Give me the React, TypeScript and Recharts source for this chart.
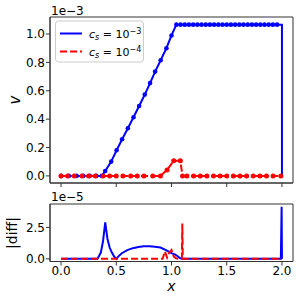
import { LineChart, Line, XAxis, YAxis, ReferenceArea } from "recharts";

// top panel: v (units of 1e-3)
const blueX = [
  0.0, 0.07, 0.14, 0.2, 0.26, 0.32, 0.37,
  0.4, 0.454, 0.503, 0.553, 0.605, 0.656, 0.707, 0.758, 0.806, 0.852, 0.902, 0.954, 1.0,
  1.044, 1.082, 1.12, 1.158, 1.196, 1.234, 1.272, 1.31, 1.348, 1.386, 1.424, 1.462, 1.5,
  1.538, 1.576, 1.614, 1.652, 1.69, 1.728, 1.766, 1.804, 1.842, 1.88, 1.918, 1.956,
];
const blueV = [
  0, 0, 0, 0, 0, 0, 0,
  0.035, 0.101, 0.181, 0.258, 0.336, 0.413, 0.493, 0.573, 0.654, 0.735, 0.815, 0.9, 0.99,
  1.066, 1.066, 1.066, 1.066, 1.066, 1.066, 1.066, 1.066, 1.066, 1.066, 1.066, 1.066, 1.066,
  1.066, 1.066, 1.066, 1.066, 1.066, 1.066, 1.066, 1.066, 1.066, 1.066, 1.066, 1.066,
];
const blueDropX = 2.0;

const redX = [
  0, 0.06, 0.12, 0.19, 0.25, 0.31, 0.38, 0.44, 0.5, 0.56, 0.63, 0.69, 0.75, 0.83, 0.9,
  0.96, 1.02, 1.08, 1.1, 1.14, 1.2, 1.26, 1.32, 1.38, 1.44, 1.5, 1.56, 1.62, 1.68, 1.74,
  1.8, 1.86, 1.92, 1.99,
];
const redV = [
  0, 0, 0, 0, 0, 0, 0, 0, 0, 0, 0, 0, 0, 0, 0,
  0.042, 0.106, 0.106, 0, 0, 0, 0, 0, 0, 0, 0, 0, 0, 0, 0,
  0, 0, 0, 0,
];

// bottom panel: |diff| (units of 1e-5)
const diffBlueX = [
  0, 0.3, 0.33, 0.36, 0.38, 0.4, 0.42, 0.44, 0.46, 0.48, 0.5, 0.52, 0.55, 0.6, 0.65, 0.7,
  0.75, 0.8, 0.85, 0.9, 0.95, 1.0, 1.03, 1.05, 1.07, 1.09, 1.5, 1.99, 1.997, 2.0,
];
const diffBlueV = [
  0, 0, 0, 0.5, 1.4, 2.9, 1.6, 0.9, 0.5, 0.2, 0, 0.2, 0.45, 0.7, 0.85, 0.95,
  1.0, 1.0, 0.97, 0.9, 0.7, 0.45, 0.35, 0.25, 0.1, 0, 0, 0, 4.15, 0,
];
const diffRedX = [0, 0.92, 0.94, 0.96, 0.98, 1.0, 1.02, 1.04, 1.06, 1.094, 1.098, 1.102, 2.0];
const diffRedV = [0, 0, 0.6, 0.1, 0.5, 0.7, 0.2, 0.05, 0, 0, 2.8, 0, 0];

const xTicks = [0, 0.5, 1, 1.5, 2];
const vTicks = [0, 0.2, 0.4, 0.6, 0.8, 1.0];
const diffTicks = [0, 2.5];

const zip = (xs: number[], ys: number[]) => xs.map((x, i) => ({ x, y: ys[i] }));

const blue = zip(blueX, blueV);
const blueTail = [
  blue[blue.length - 1],
  { x: blueDropX, y: blueV[blueV.length - 1] },
  { x: blueDropX, y: 0 },
];
const red = zip(redX, redV);
const diffBlue = zip(diffBlueX, diffBlueV);
const diffRed = zip(diffRedX, diffRedV);

const X_DOM: [number, number] = [-0.1, 2.1];
const V_DOM: [number, number] = [-0.05, 1.12];
const D_DOM: [number, number] = [-0.21, 4.36];

const BLUE = "#0000ff";
const RED = "#ff0000";
const AX = "#333";
const tickStyle = { fontSize: 12, fill: "#000" };

export default function App() {
  return (
    <div
      style={{
        position: "absolute",
        left: 0,
        top: 0,
        width: 300,
        height: 300,
        background: "#fff",
        fontFamily: "'DejaVu Sans', sans-serif",
      }}
    >
      <div style={{ position: "absolute", left: 0, top: 0 }}>
        <LineChart width={300} height={190} margin={{ top: 17, right: 7, left: 0, bottom: 0 }}>
          <XAxis
            type="number"
            dataKey="x"
            domain={X_DOM}
            ticks={xTicks}
            allowDataOverflow
            height={7}
            tickSize={4}
            tickFormatter={() => ""}
            stroke={AX}
          />
          <YAxis
            type="number"
            dataKey="y"
            domain={V_DOM}
            ticks={vTicks}
            allowDataOverflow
            width={50}
            tickSize={4}
            tickMargin={1}
            tick={tickStyle}
            tickFormatter={(t: number) => t.toFixed(1)}
            stroke={AX}
          />
          <Line
            data={blue}
            dataKey="y"
            type="linear"
            stroke={BLUE}
            strokeWidth={2}
            dot={{ r: 2.3, fill: BLUE, stroke: "none" }}
            isAnimationActive={false}
          />
          <Line
            data={blueTail}
            dataKey="y"
            type="linear"
            stroke={BLUE}
            strokeWidth={2}
            dot={false}
            isAnimationActive={false}
          />
          <Line
            data={red}
            dataKey="y"
            type="linear"
            stroke={RED}
            strokeWidth={2}
            strokeDasharray="7 3"
            dot={{ r: 2.5, fill: RED, stroke: "none" }}
            isAnimationActive={false}
          />
          <ReferenceArea x1={X_DOM[0]} x2={X_DOM[1]} y1={V_DOM[0]} y2={V_DOM[1]} fill="none" stroke={AX} />
        </LineChart>
      </div>

      <div style={{ position: "absolute", left: 0, top: 190 }}>
        <LineChart width={300} height={110} margin={{ top: 14, right: 7, left: 0, bottom: 0 }}>
          <XAxis
            type="number"
            dataKey="x"
            domain={X_DOM}
            ticks={xTicks}
            allowDataOverflow
            height={38.5}
            tickSize={4}
            tickMargin={1}
            tick={tickStyle}
            tickFormatter={(t: number) => t.toFixed(1)}
            stroke={AX}
          />
          <YAxis
            type="number"
            dataKey="y"
            domain={D_DOM}
            ticks={diffTicks}
            allowDataOverflow
            width={50}
            tickSize={4}
            tickMargin={1}
            tick={tickStyle}
            tickFormatter={(t: number) => t.toFixed(1)}
            stroke={AX}
          />
          <Line
            data={diffBlue}
            dataKey="y"
            type="linear"
            stroke={BLUE}
            strokeWidth={2}
            dot={false}
            isAnimationActive={false}
          />
          <Line
            data={diffRed}
            dataKey="y"
            type="linear"
            stroke={RED}
            strokeWidth={2}
            strokeDasharray="7 3"
            dot={false}
            isAnimationActive={false}
          />
          <ReferenceArea x1={X_DOM[0]} x2={X_DOM[1]} y1={D_DOM[0]} y2={D_DOM[1]} fill="none" stroke={AX} />
        </LineChart>
      </div>

      <svg
        width={300}
        height={300}
        style={{ position: "absolute", left: 0, top: 0, pointerEvents: "none" }}
      >
        <text x={51} y={15} fontSize={12}>1e−3</text>
        <text x={51} y={201} fontSize={12}>1e−5</text>
        <text x={20} y={100} fontSize={15} fontStyle="italic" textAnchor="middle" transform="rotate(-90 20 100)">
          v
        </text>
        <text x={17} y={233} fontSize={14} textAnchor="middle" transform="rotate(-90 17 233)">
          |diff|
        </text>
        <text x={171.5} y={291} fontSize={14} fontStyle="italic" textAnchor="middle">
          x
        </text>
        {/* legend */}
        <rect x={55.5} y={21} width={88} height={41} rx={3} fill="#fff" fillOpacity={0.8} stroke="#ccc" />
        <line x1={60} x2={82} y1={33.5} y2={33.5} stroke={BLUE} strokeWidth={2} />
        <line x1={60} x2={82} y1={51.5} y2={51.5} stroke={RED} strokeWidth={2} strokeDasharray="7 3" />
        <text x={89} y={37.5} fontSize={11}>
          <tspan fontStyle="italic">c</tspan>
          <tspan fontSize={8} fontStyle="italic" dy={2}>s</tspan>
          <tspan dy={-2}> = 10</tspan>
          <tspan fontSize={8} dy={-4}>−3</tspan>
        </text>
        <text x={89} y={55.5} fontSize={11}>
          <tspan fontStyle="italic">c</tspan>
          <tspan fontSize={8} fontStyle="italic" dy={2}>s</tspan>
          <tspan dy={-2}> = 10</tspan>
          <tspan fontSize={8} dy={-4}>−4</tspan>
        </text>
      </svg>
    </div>
  );
}
